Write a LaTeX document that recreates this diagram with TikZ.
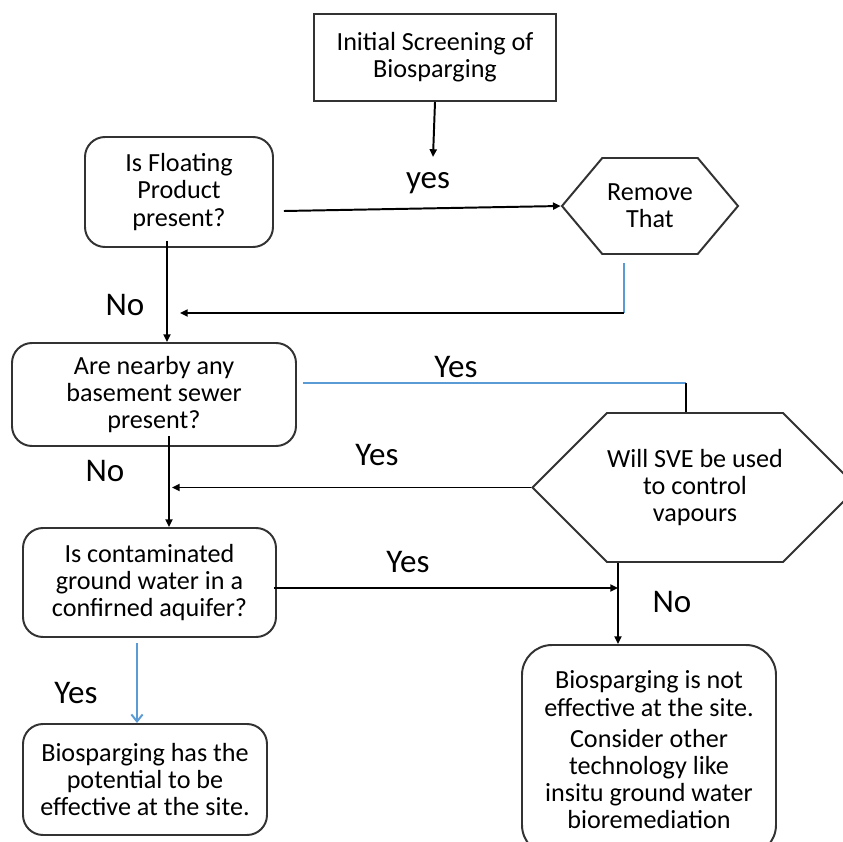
\documentclass[tikz,border=0pt]{standalone}
\usepackage{fontspec}
\setmainfont{Carlito}
\usetikzlibrary{shapes.symbols,arrows.meta}
\definecolor{linkblue}{RGB}{91,155,213}
\definecolor{edgegray}{RGB}{50,50,50}
\tikzset{
  txt/.style={align=center, inner sep=0pt, font=\fontsize{18.6}{19.3}\selectfont},
  ans/.style={font=\fontsize{23.5}{25}\selectfont},
  sz/.style 2 args={minimum width=#1*0.25mm, minimum height=#2*0.25mm},
  sqbox/.style={txt, draw=edgegray, line width=1.4pt},
  rbox/.style={sqbox, rounded corners=5mm},
  hexbox/.style={txt, draw=edgegray, line width=1.4pt, signal,
    signal to=east and west, signal pointer angle=#1},
  conn/.style={line width=1.4pt, -{Triangle[length=5.5pt,width=5pt]}},
  plain/.style={line width=1.4pt},
  blueln/.style={line width=1.4pt, draw=linkblue}
}
\begin{document}
\begin{tikzpicture}[x=0.25mm, y=-0.25mm]
\useasboundingbox (0,0) rectangle (842,842);
% boxes
\node[sqbox, sz={242}{87}] (init) at (435,57.5) {Initial Screening of\\Biosparging};
\node[rbox, sz={188}{110}] (float) at (179,192) {Is Floating\\Product\\present?};
\node[hexbox=100, sz={176}{96}] (remove) at (650,206) {Remove\\That};
\node[rbox, sz={284}{103}] (basement) at (154,394.5) {Are nearby any\\basement sewer\\present?};
\node[hexbox=90, sz={304}{149}] (sve) at (695,487.5) {Will SVE be used\\to control\\vapours};
\node[rbox, sz={253}{109}] (cont) at (149.5,582.5) {Is contaminated\\ground water in a\\confirned aquifer?};
\node[rbox, sz={244}{111}] (pot) at (145,779.5) {Biosparging has the\\potential to be\\effective at the site.};
\node[rbox, rounded corners=7.5mm, sz={254}{210}] (noteff) at (649,750)
  {Biosparging is not\\effective at the site.\\[3pt]Consider other\\technology like\\insitu ground water\\bioremediation};
% helper points
\coordinate (initend) at (433,157);
\coordinate (rcorner) at (624,313);
\coordinate (ret) at (180,313);
\coordinate (fs) at ([shift={(-12,-7)}]float.south);
\coordinate (bcorner) at (686,383);
\coordinate (bs) at ([shift={(15,-11)}]basement.south);
\coordinate (sveend) at (172,487.5);
\coordinate (sb) at ([shift={(-77,0)}]sve.south);
\coordinate (ce) at ([shift={(-3,5.5)}]cont.east);
\coordinate (cs) at ([shift={(-12.5,5)}]cont.south);
% connectors
\draw[conn] (init.south) -- (initend);
\draw[conn] ([shift={(10,19)}]float.east) -- (remove.west);
\draw[blueln] ([shift={(-26,8)}]remove.south) -- (rcorner);
\draw[conn] (rcorner) -- (ret);
\draw[conn] (fs) -- (fs |- basement.north);
\draw[blueln] ([shift={(6,-11.5)}]basement.east) -- (bcorner);
\draw[plain] (bcorner) -- (bcorner |- sve.north);
\draw[conn] (sve.west) -- (sveend);
\draw[conn] (bs) -- (bs |- cont.north);
\draw[conn] (ce) -- (ce -| sb);
\draw[conn] (sb) -- (sb |- noteff.north);
\draw[blueln, -{Straight Barb[length=5pt,width=8pt]}] (cs) -- (cs |- pot.north);
% answers
\node[ans] (a1) at (428,183) {yes};
\node[ans] (a2) at (125,305) {No};
\node[ans] (a3) at (456,367) {Yes};
\node[ans] (a4) at (377,455) {Yes};
\node[ans] (a5) at (105,471) {No};
\node[ans] (a6) at (408,562) {Yes};
\node[ans] (a7) at (672,602) {No};
\node[ans] (a8) at (76,693) {Yes};
\end{tikzpicture}
\end{document}
